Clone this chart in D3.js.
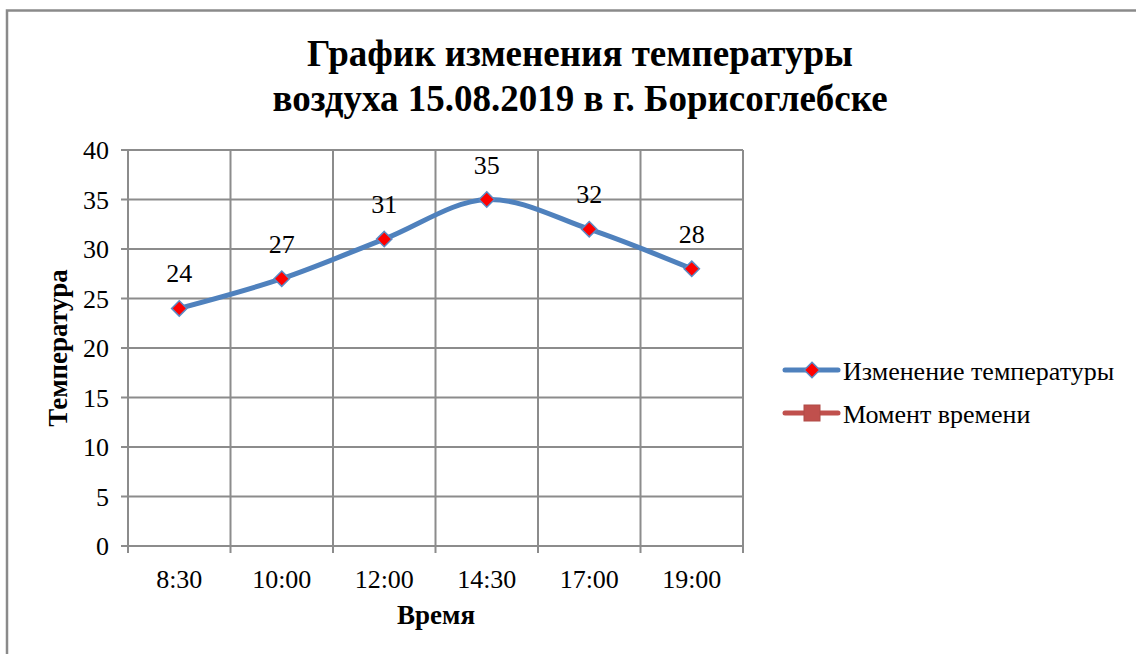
<!DOCTYPE html>
<html>
<head>
<meta charset="utf-8">
<script src="https://cdn.jsdelivr.net/npm/d3@7"></script>
<style>
  body { margin: 0; background: #fff; }
  text { font-family: "Liberation Serif", "Times New Roman", serif; }
</style>
</head>
<body>
<svg id="chart" width="1136" height="654"></svg>
<script>
// data
var times = ["8:30", "10:00", "12:00", "14:30", "17:00", "19:00"];
var temps = [24, 27, 31, 35, 32, 28];
var yTicks = [0, 5, 10, 15, 20, 25, 30, 35, 40];
var seriesNames = ["Изменение температуры", "Момент времени"];

var svg = d3.select("#chart");

var gridColor = "#8c8c8c";
var lineColor = "#4f81bd";
var line2Color = "#c0504d";

// outer frame (only top and left visible)
svg.append("path")
    .attr("d", "M7,660 L7,10.5 L1140,10.5")
    .attr("fill", "none")
    .attr("stroke", "#8a8a8a")
    .attr("stroke-width", 2.5);

var x = d3.scaleBand().domain(times).range([128, 743]);
var y = d3.scaleLinear().domain([0, 40]).range([546, 150]);

// title
var title = svg.append("text")
    .attr("text-anchor", "middle")
    .attr("font-weight", "bold")
    .attr("font-size", 37);
title.append("tspan").attr("x", 580).attr("y", 66).text("График изменения температуры");
title.append("tspan").attr("x", 580).attr("y", 111).text("воздуха 15.08.2019 в г. Борисоглебске");

// horizontal grid + y ticks
svg.append("g").selectAll("line").data(yTicks).enter().append("line")
    .attr("x1", 121).attr("x2", 743)
    .attr("y1", function(d) { return y(d); })
    .attr("y2", function(d) { return y(d); })
    .attr("stroke", gridColor).attr("stroke-width", 2);

// vertical grid lines at band edges
var edges = times.map(function(t) { return x(t); }).concat([x.range()[1]]);
svg.append("g").selectAll("line").data(edges).enter().append("line")
    .attr("x1", function(d) { return d; })
    .attr("x2", function(d) { return d; })
    .attr("y1", y(40)).attr("y2", 553)
    .attr("stroke", gridColor).attr("stroke-width", 2);

// y tick labels
svg.append("g").selectAll("text").data(yTicks).enter().append("text")
    .attr("x", 109)
    .attr("y", function(d) { return y(d); })
    .attr("dy", "0.35em")
    .attr("text-anchor", "end")
    .attr("font-size", 26)
    .text(function(d) { return d; });

// x tick labels
svg.append("g").selectAll("text").data(times).enter().append("text")
    .attr("x", function(d) { return x(d) + x.bandwidth() / 2; })
    .attr("y", 588)
    .attr("text-anchor", "middle")
    .attr("font-size", 26)
    .text(function(d) { return d; });

// axis titles
svg.append("text")
    .attr("x", 436).attr("y", 624)
    .attr("text-anchor", "middle")
    .attr("font-weight", "bold")
    .attr("font-size", 27)
    .text("Время");

svg.append("text")
    .attr("transform", "translate(67,348) rotate(-90)")
    .attr("text-anchor", "middle")
    .attr("font-weight", "bold")
    .attr("font-size", 27)
    .text("Температура");

// series line
var pts = times.map(function(t, i) { return [x(t) + x.bandwidth() / 2, y(temps[i])]; });
svg.append("path")
    .attr("d", d3.line().curve(d3.curveCatmullRom.alpha(0.5))(pts))
    .attr("fill", "none")
    .attr("stroke", lineColor)
    .attr("stroke-width", 5)
    .attr("stroke-linecap", "round");

var diamond = d3.symbol().type(d3.symbolDiamond2).size(150);

svg.append("g").selectAll("path").data(pts).enter().append("path")
    .attr("transform", function(d) { return "translate(" + d[0] + "," + d[1] + ")"; })
    .attr("d", diamond)
    .attr("fill", "#ff0000")
    .attr("stroke", "#5b8ac4")
    .attr("stroke-width", 1.5);

// data labels
svg.append("g").selectAll("text").data(pts).enter().append("text")
    .attr("x", function(d) { return d[0]; })
    .attr("y", function(d) { return d[1] - 26; })
    .attr("text-anchor", "middle")
    .attr("font-size", 26)
    .text(function(d, i) { return temps[i]; });

// legend
var lg = svg.append("g");
lg.append("line").attr("x1", 785).attr("x2", 838).attr("y1", 370).attr("y2", 370)
    .attr("stroke", lineColor).attr("stroke-width", 5).attr("stroke-linecap", "round");
lg.append("path").attr("transform", "translate(812,370)").attr("d", diamond)
    .attr("fill", "#ff0000").attr("stroke", "#5b8ac4").attr("stroke-width", 1.5);
lg.append("text").attr("x", 843).attr("y", 380).attr("font-size", 26).text(seriesNames[0]);

lg.append("line").attr("x1", 785).attr("x2", 838).attr("y1", 413).attr("y2", 413)
    .attr("stroke", line2Color).attr("stroke-width", 5).attr("stroke-linecap", "round");
lg.append("rect").attr("x", 804).attr("y", 405).attr("width", 16).attr("height", 16)
    .attr("fill", line2Color).attr("stroke", "#b04a47").attr("stroke-width", 1);
lg.append("text").attr("x", 843).attr("y", 423).attr("font-size", 26).text(seriesNames[1]);
</script>
</body>
</html>
